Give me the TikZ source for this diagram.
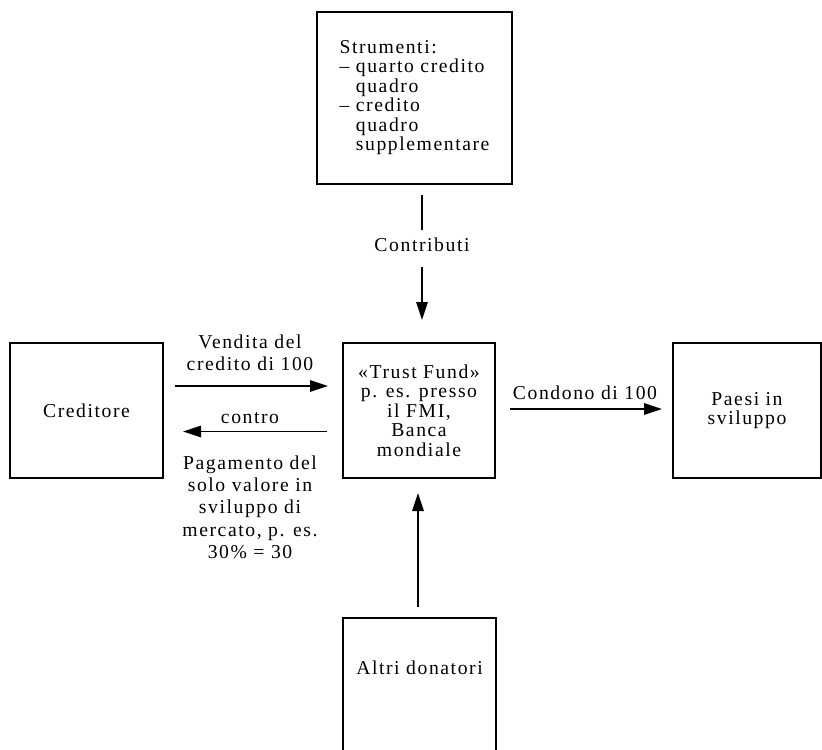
\documentclass[tikz,border=0pt]{standalone}
\usepackage{fontspec}
\setmainfont{Liberation Serif}[LetterSpace=8]
\usetikzlibrary{arrows.meta}

\begin{document}
\begin{tikzpicture}[
            x=0.6pt, y=-0.6pt,
            font=\fontsize{11.8}{11.7}\selectfont,
            box/.style={draw, line width=1.1pt, inner sep=0pt, outer sep=0pt, align=center},
            flow/.style={-{Triangle[length=10.8pt, width=6.8pt]}, line width=1.1pt},
            plain/.style={line width=1.1pt},
            txt/.style={inner sep=0pt, align=center},
            widetxt/.style={txt, font=\fontsize{11.8}{13.4}\selectfont}
        ]
            \useasboundingbox (0,0) rectangle (822,750);

            % Riquadri
            \node[box, minimum width=117pt, minimum height=103.2pt] (strum) at (414.5,98)
                {\begin{tabular}{@{}l@{}}Strumenti:\\
                 -- quarto credito\\ \phantom{-- }quadro\\
                 -- credito\\ \phantom{-- }quadro\\ \phantom{-- }supplementare\end{tabular}};
            \node[box, minimum width=91.2pt, minimum height=81pt] (trust) at (419,410.5)
                {«Trust Fund»\\ p. es. presso\\ il FMI,\\ Banca\\ mondiale};
            \node[box, minimum width=91.8pt, minimum height=81pt] (cred) at (86.5,410.5) {Creditore};
            \node[box, minimum width=88.8pt, minimum height=81pt] (paesi) at (747,410.5) {Paesi in\\ sviluppo};
            \node[box, minimum width=91.8pt, minimum height=103.2pt] (altri) at (419.5,704) {};
            \node[txt] (altritxt) at (419.5,668) {Altri donatori};

            % Etichette
            \node[txt] (contr) at (422,245) {Contributi};
            \node[widetxt] (vend) at (250,353) {Vendita del\\ credito di 100};
            \node[txt] (contro) at (250,418) {contro};
            \node[widetxt] (pag) at (250,507) {Pagamento del\\ solo valore in\\ sviluppo di\\ mercato, p. es.\\ 30\% = 30};
            \node[txt] (cond) at (585,393) {Condono di 100};

            % Frecce
            \draw[plain, shorten <=6.6pt, shorten >=4.8pt] (contr.north |- strum.south) -- (contr.north);
            \draw[flow, shorten <=9pt, shorten >=13.8pt] (contr.south) -- (contr.south |- trust.north);
            \draw[flow, shorten <=7.2pt, shorten >=9pt] ([yshift=14.7pt]cred.east) -- ([yshift=14.7pt]trust.west);
            \draw[flow, shorten <=9.6pt, shorten >=12pt] ([yshift=-12.6pt]trust.west) -- ([yshift=-12.6pt]cred.east);
            \draw[flow, shorten <=9pt, shorten >=6.6pt] ([yshift=0.9pt]trust.east) -- ([yshift=0.9pt]paesi.west);
            \draw[flow, shorten <=6.6pt, shorten >=9pt] ([xshift=-0.9pt]altri.north) -- ([xshift=-0.9pt]altri.north |- trust.south);

        \end{tikzpicture}
\end{document}
